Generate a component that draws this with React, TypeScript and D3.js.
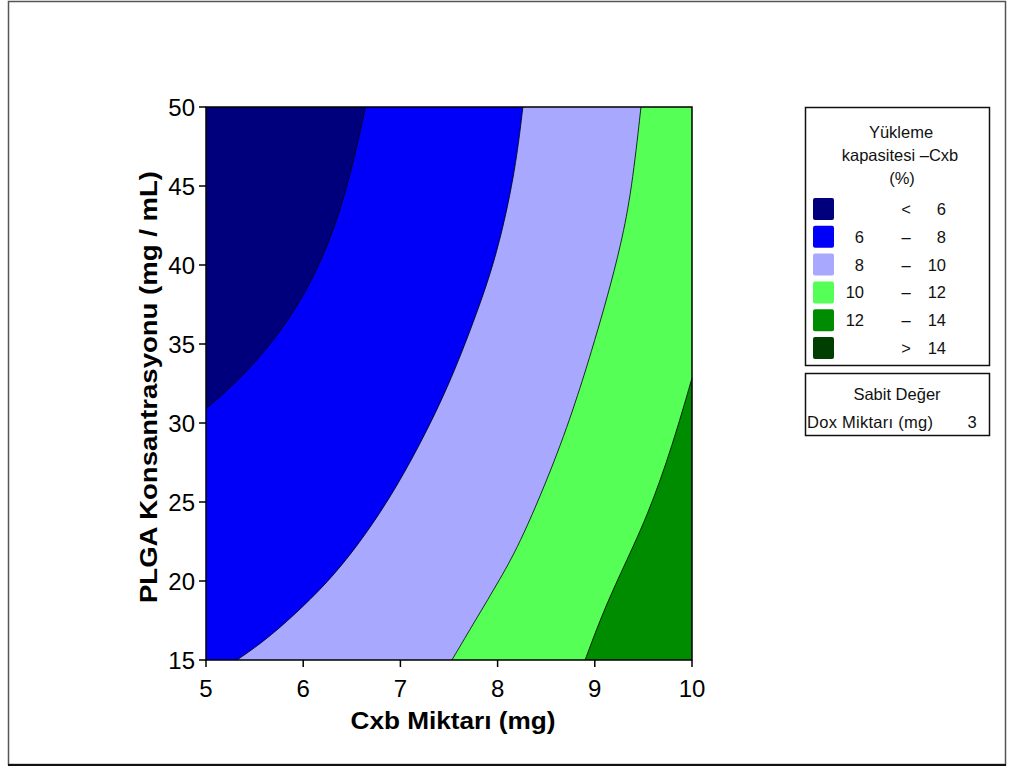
import React, { useEffect, useRef } from 'react';
import * as d3 from 'd3';

// axis ticks
const xTicks = [5, 6, 7, 8, 9, 10];
const yTicks = [15, 20, 25, 30, 35, 40, 45, 50];

// contour boundaries, [Cxb mg, PLGA mg/mL], top to bottom
const contour6 = [[6.64, 50], [6.53, 46.84], [6.35, 42.66], [6.06, 38.5], [5.68, 35.0], [5.3, 32.5], [5.0, 30.9]];
const contour8 = [[8.26, 50], [8.18, 45.82], [7.99, 40.51], [7.75, 36.33], [7.5, 32.4], [7.2, 28.6], [6.88, 25.1],
  [6.55, 22.15], [6.25, 19.9], [5.9, 17.8], [5.6, 16.2], [5.32, 15]];
const contour10 = [[9.475, 50], [9.38, 44.75], [9.27, 41.3], [9.13, 38.0], [9.0, 35.25], [8.86, 32.4], [8.63, 28.2],
  [8.25, 22.6], [8.02, 20.06], [7.78, 17.6], [7.53, 15]];
const contour12 = [[10, 32.85], [9.8, 28.6], [9.55, 24.2], [9.25, 20.3], [9.07, 17.8], [8.9, 15]];

// legend
const legendLow = ['', '6', '8', '10', '12', ''];
const legendSym = ['<', '–', '–', '–', '–', '>'];
const legendHigh = ['6', '8', '10', '12', '14', '14'];
const bandColors = ['#00007c', '#0000f8', '#a8a8ff', '#55ff55', '#008c00', '#003f00'];

export default function App() {
  const ref = useRef(null);

  useEffect(() => {
    const svg = d3.select(ref.current);
    svg.selectAll('*').remove();

    const x = d3.scaleLinear().domain([5, 10]).range([206, 692]);
    const y = d3.scaleLinear().domain([15, 50]).range([660, 107]);

    // outer frame
    svg.append('rect').attr('x', 8.5).attr('y', 1.5).attr('width', 997).attr('height', 763)
      .attr('fill', 'white').attr('stroke', '#555').attr('stroke-width', 1.5);
    svg.append('line').attr('x1', 8).attr('x2', 1006).attr('y1', 765).attr('y2', 765)
      .attr('stroke', '#111').attr('stroke-width', 2);

    const plot = svg.append('g');
    plot.append('rect').attr('x', x(5)).attr('y', y(50)).attr('width', x(10) - x(5)).attr('height', y(15) - y(50))
      .attr('fill', bandColors[4]);

    const line = d3.line().x(d => x(d[0])).y(d => y(d[1])).curve(d3.curveBasis);

    const region = (pts) => {
      let p = line(pts);
      const first = pts[0];
      const last = pts[pts.length - 1];
      if (last[1] === 15) p += 'L' + x(5) + ',' + y(15);
      p += 'L' + x(5) + ',' + y(50);
      if (first[1] !== 50) p += 'L' + x(10) + ',' + y(50);
      return p + 'Z';
    };

    const fills = [[contour12, bandColors[3]], [contour10, bandColors[2]], [contour8, bandColors[1]], [contour6, bandColors[0]]];
    fills.forEach(([pts, c]) => {
      plot.append('path').attr('d', region(pts)).attr('fill', c);
    });
    [contour12, contour10, contour8, contour6].forEach(pts => {
      plot.append('path').attr('d', line(pts)).attr('fill', 'none').attr('stroke', '#000').attr('stroke-width', 0.8);
    });

    plot.append('rect').attr('x', x(5)).attr('y', y(50)).attr('width', x(10) - x(5)).attr('height', y(15) - y(50))
      .attr('fill', 'none').attr('stroke', '#000').attr('stroke-width', 1.5);

    // axes
    const ax = svg.append('g').attr('font-family', 'Liberation Sans, Arial, sans-serif').attr('font-size', 24);
    xTicks.forEach(t => {
      ax.append('line').attr('x1', x(t)).attr('x2', x(t)).attr('y1', 660).attr('y2', 667).attr('stroke', '#000').attr('stroke-width', 1.5);
      ax.append('text').attr('x', x(t)).attr('y', 697).attr('text-anchor', 'middle').text(t);
    });
    yTicks.forEach(t => {
      ax.append('line').attr('x1', 199).attr('x2', 206).attr('y1', y(t)).attr('y2', y(t)).attr('stroke', '#000').attr('stroke-width', 1.5);
      ax.append('text').attr('x', 195).attr('y', y(t)).attr('dy', '0.36em').attr('text-anchor', 'end').text(t);
    });

    svg.append('text').attr('x', 453).attr('y', 729).attr('text-anchor', 'middle')
      .attr('font-family', 'Liberation Sans, Arial, sans-serif').attr('font-weight', 'bold').attr('font-size', 24)
      .attr('textLength', 205).attr('lengthAdjust', 'spacingAndGlyphs')
      .text('Cxb Miktarı (mg)');
    svg.append('text').attr('transform', 'translate(157,387) rotate(-90)').attr('text-anchor', 'middle')
      .attr('font-family', 'Liberation Sans, Arial, sans-serif').attr('font-weight', 'bold').attr('font-size', 24)
      .attr('textLength', 432).attr('lengthAdjust', 'spacingAndGlyphs')
      .text('PLGA Konsantrasyonu (mg / mL)');

    // legend
    const lg = svg.append('g').attr('font-family', 'Liberation Sans, Arial, sans-serif').attr('font-size', 16.5).attr('fill', '#111');
    lg.append('rect').attr('x', 805.5).attr('y', 107.5).attr('width', 184).attr('height', 258)
      .attr('fill', 'white').attr('stroke', '#111').attr('stroke-width', 1.5);
    lg.append('text').attr('x', 901).attr('y', 138).attr('text-anchor', 'middle').text('Yükleme');
    lg.append('text').attr('x', 900).attr('y', 161).attr('text-anchor', 'middle').text('kapasitesi –Cxb');
    lg.append('text').attr('x', 902).attr('y', 184).attr('text-anchor', 'middle').text('(%)');
    bandColors.forEach((c, i) => {
      const cy = 209 + i * 27.8;
      lg.append('rect').attr('x', 813).attr('y', cy - 11).attr('width', 21).attr('height', 22).attr('rx', 2).attr('fill', c);
      lg.append('text').attr('x', 864).attr('y', cy + 6).attr('text-anchor', 'end').text(legendLow[i]);
      lg.append('text').attr('x', 906).attr('y', cy + 6).attr('text-anchor', 'middle').text(legendSym[i]);
      lg.append('text').attr('x', 946).attr('y', cy + 6).attr('text-anchor', 'end').text(legendHigh[i]);
    });

    lg.append('rect').attr('x', 805.5).attr('y', 373.5).attr('width', 184).attr('height', 62)
      .attr('fill', 'white').attr('stroke', '#111').attr('stroke-width', 1.5);
    lg.append('text').attr('x', 897).attr('y', 400).attr('text-anchor', 'middle').text('Sabit Değer');
    lg.append('text').attr('x', 807).attr('y', 428).attr('textLength', 126).attr('lengthAdjust', 'spacing').text('Dox Miktarı (mg)');
    lg.append('text').attr('x', 972).attr('y', 428).attr('text-anchor', 'middle').text('3');
  }, []);

  return (
    <div style={{ position: 'absolute', left: 0, top: 0 }}>
      <svg ref={ref} width={1009} height={769} style={{ display: 'block' }}></svg>
    </div>
  );
}
